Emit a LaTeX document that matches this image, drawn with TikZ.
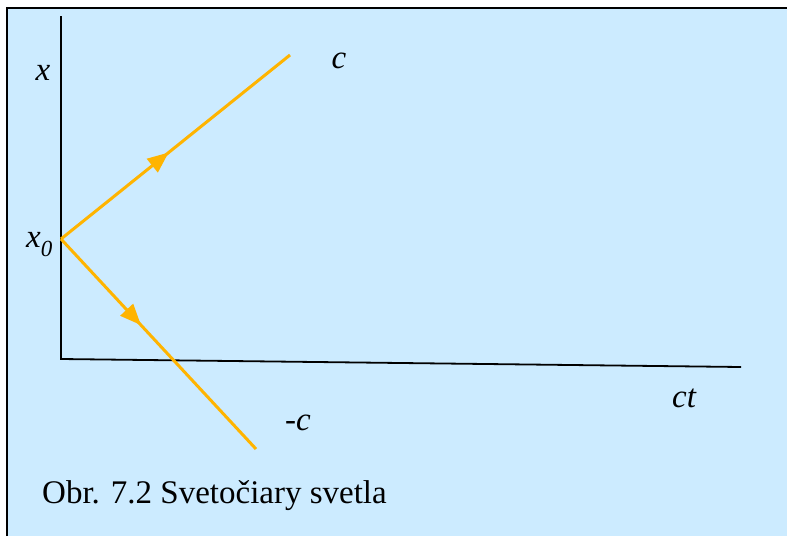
\documentclass[tikz,border=0pt]{standalone}
\usepackage{fontspec}
\setmainfont{Liberation Serif}
\usetikzlibrary{arrows.meta,decorations.markings}
\definecolor{skyback}{HTML}{CCEBFF}
\definecolor{raygold}{HTML}{FFB400}
\begin{document}
\begin{tikzpicture}[x=1pt,y=-1pt, every node/.style={font=\fontsize{33}{38}\selectfont\itshape,inner sep=0pt}]
\useasboundingbox (0,0) rectangle (787,536);
\fill[skyback] (7,8) rectangle (787,536);
\draw[line width=2.6pt] (7,536) -- (7,8) -- (787,8);
\coordinate (xtop) at (61,16);
\coordinate (orig) at (61,359);
\coordinate (ctend) at (741,367);
\coordinate (x0) at (61,239);
\coordinate (cend) at (290,55);
\coordinate (mcend) at (256,449);
\draw[line width=1.8pt] (xtop) -- (orig) -- (ctend);
\draw[raygold,line width=3pt,decoration={markings,mark=at position 0.47 with {\arrow{Triangle[length=21pt,width=17pt]}}},postaction={decorate}] (x0) -- (cend);
\draw[raygold,line width=3pt,decoration={markings,mark=at position 0.41 with {\arrow{Triangle[length=21pt,width=17pt]}}},postaction={decorate}] (x0) -- (mcend);
\node[anchor=base] (xlab) at (43,80) {x};
\node[anchor=base west] (x0lab) at (26,247) {x\raisebox{-0.28em}{\fontsize{23}{23}\selectfont 0}};
\node[anchor=base] (clab) at (339,68) {c};
\node[anchor=base] (mclab) at (298,430) {-c};
\node[anchor=base] (ctlab) at (684,407) {ct};
\node[anchor=base west,font=\fontsize{33}{38}\selectfont\upshape] (caption) at (42,503) {Obr. 7.2 Svetočiary svetla};
\end{tikzpicture}
\end{document}
